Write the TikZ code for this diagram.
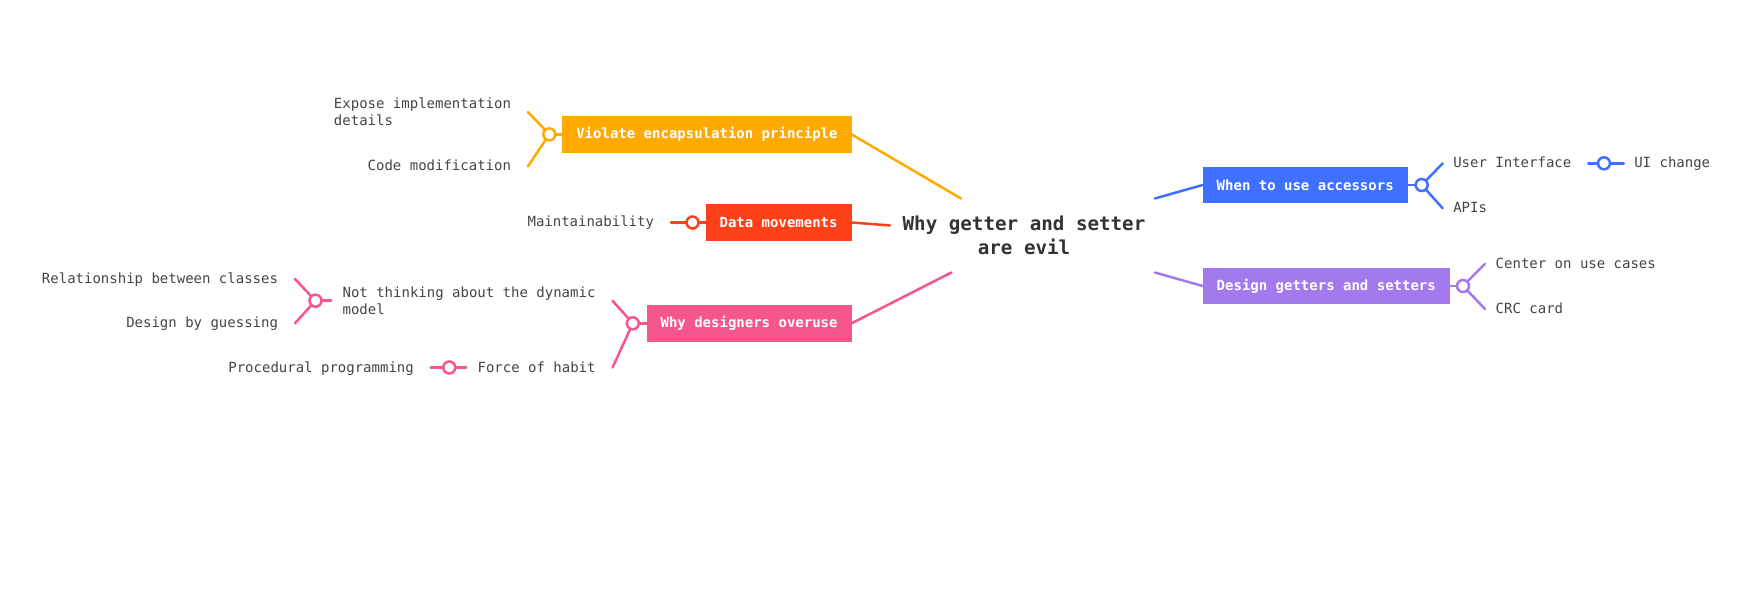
\documentclass[tikz,border=0pt]{standalone}
\usepackage{fontspec}
\newfontfamily\mono{DejaVu Sans Mono}
\definecolor{corange}{HTML}{FFAA00}
\definecolor{cred}{HTML}{FF4119}
\definecolor{cpink}{HTML}{F6568A}
\definecolor{cblue}{HTML}{4070FF}
\definecolor{cpurple}{HTML}{A27AEE}
\definecolor{leafgray}{HTML}{454545}
\definecolor{rootgray}{HTML}{333333}
\begin{document}
\begin{tikzpicture}[x=1bp,y=-1bp,
  leaf/.style={font=\mono\fontsize{14bp}{17.3bp}\selectfont, text=leafgray, inner sep=0, outer sep=0, align=left},
  leafone/.style={leaf, text height=11bp, text depth=2bp},
  box/.style={font=\mono\bfseries\fontsize{14bp}{17bp}\selectfont, text=white, inner xsep=14bp, inner ysep=0, minimum height=36.7bp, outer sep=0},
  knob/.style={circle, draw=#1, fill=white, line width=2.5bp, minimum size=12bp, inner sep=0, outer sep=0},
  link/.style={draw=#1, line width=2.5bp, line cap=round},
  rootnode/.style={font=\mono\bfseries\fontsize{19.2bp}{23.4bp}\selectfont, text=rootgray, align=center, inner sep=0, outer sep=0, minimum width=268bp, minimum height=74bp}
]
\fill[white] (0,0) rectangle (1750,591);
\useasboundingbox (0,0) rectangle (1750,591);

% root
\node[rootnode] (root) at (1024,235.5) {Why getter and setter\\are evil};

% orange branch
\node[box, fill=corange, anchor=east] (vb) at (851.6,134.4) {Violate encapsulation principle};
\node[knob=corange] (oc) at (549.3,134.4) {};
\node[leaf, anchor=east] (e1) at (511,112) {Expose implementation\\details};
\node[leafone, anchor=east] (e2) at (511,166.3) {Code modification};
\draw[link=corange] (vb.east) -- (root);
\draw[link=corange] (oc) -- (vb.west);
\draw[link=corange] ([xshift=17bp]e1.east) -- (oc);
\draw[link=corange] ([xshift=17bp]e2.east) -- (oc);

% red branch
\node[box, fill=cred, anchor=east] (dm) at (851.6,222.5) {Data movements};
\node[knob=cred] (rc) at (692.5,222.5) {};
\node[leafone, anchor=east] (mt) at (654,222.5) {Maintainability};
\draw[link=cred] (dm.east) -- (root);
\draw[link=cred] (rc) -- (dm.west);
\draw[link=cred] ([xshift=17bp]mt.east) -- (rc);

% pink branch
\node[box, fill=cpink, anchor=east] (wd) at (851.6,323.3) {Why designers overuse};
\node[knob=cpink] (pc) at (632.8,323.3) {};
\node[leaf, anchor=west] (nt) at (342.6,300.7) {Not thinking about the dynamic\\model};
\node[leafone, anchor=east] (fh) at (595.6,367.5) {Force of habit};
\node[knob=cpink] (ntc) at (315.5,300.7) {};
\node[leafone, anchor=east] (rb) at (278,279) {Relationship between classes};
\node[leafone, anchor=east] (dg) at (278,323.3) {Design by guessing};
\node[knob=cpink] (fhc) at (449.3,367.5) {};
\node[leafone, anchor=east] (pp) at (413.8,367.5) {Procedural programming};
\draw[link=cpink] (wd.east) -- (root);
\draw[link=cpink] (pc) -- (wd.west);
\draw[link=cpink] ([xshift=17bp]nt.east) -- (pc);
\draw[link=cpink] ([xshift=17bp]fh.east) -- (pc);
\draw[link=cpink] (ntc) -- ([xshift=-11.5bp]nt.west);
\draw[link=cpink] ([xshift=17bp]rb.east) -- (ntc);
\draw[link=cpink] ([xshift=17bp]dg.east) -- (ntc);
\draw[link=cpink] (fhc) -- ([xshift=-11.5bp]fh.west);
\draw[link=cpink] ([xshift=17bp]pp.east) -- (fhc);

% blue branch
\node[box, fill=cblue, anchor=west] (wu) at (1202.7,185) {When to use accessors};
\node[knob=cblue] (bc) at (1421.7,185) {};
\node[leafone, anchor=west] (ui) at (1453.3,163.3) {User Interface};
\node[leafone, anchor=west] (ap) at (1453.3,208.3) {APIs};
\node[knob=cblue] (uic) at (1604,163.3) {};
\node[leafone, anchor=west] (uc) at (1634.3,163.3) {UI change};
\draw[link=cblue] (wu.west) -- (root);
\draw[link=cblue] (wu.east) -- (bc);
\draw[link=cblue] (bc) -- ([xshift=-10.6bp]ui.west);
\draw[link=cblue] (bc) -- ([xshift=-10.6bp]ap.west);
\draw[link=cblue] ([xshift=17bp]ui.east) -- (uic);
\draw[link=cblue] (uic) -- ([xshift=-10.5bp]uc.west);

% purple branch
\node[box, fill=cpurple, anchor=west] (dgs) at (1202.7,286) {Design getters and setters};
\node[knob=cpurple] (pcc) at (1463,286) {};
\node[leafone, anchor=west] (cu) at (1495.7,263.8) {Center on use cases};
\node[leafone, anchor=west] (crc) at (1495.7,309) {CRC card};
\draw[link=cpurple] (dgs.west) -- (root);
\draw[link=cpurple] (dgs.east) -- (pcc);
\draw[link=cpurple] (pcc) -- ([xshift=-10.7bp]cu.west);
\draw[link=cpurple] (pcc) -- ([xshift=-10.7bp]crc.west);
\end{tikzpicture}
\end{document}
